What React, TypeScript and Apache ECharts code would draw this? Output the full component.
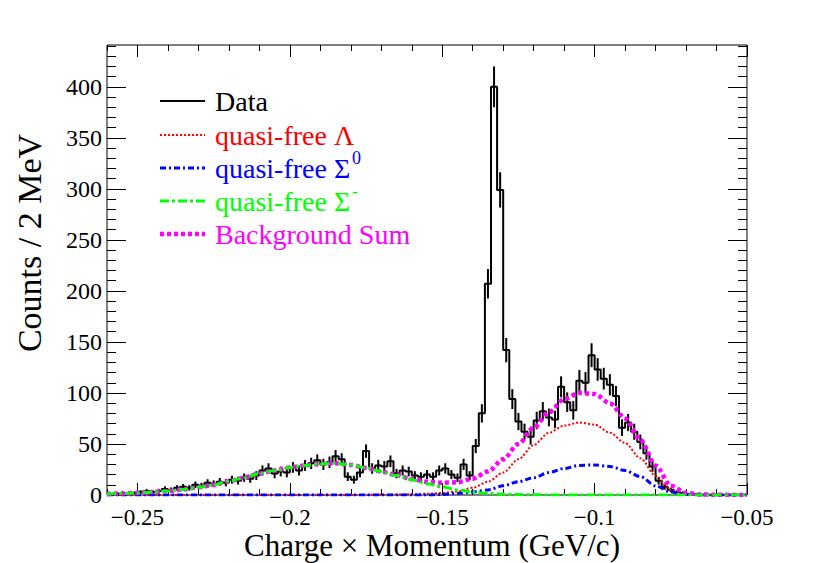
import React, { useEffect, useRef } from "react";
import * as echarts from "echarts";

const FONT = "Liberation Serif";

// Histogram: bins of 2 MeV from -0.26 to -0.05 GeV/c
const BIN_LOW = -0.26;
const BIN_WIDTH = 0.002;
const dataCounts = [
  1, 1, 2, 1, 2, 3, 4, 3, 4, 6,
  5, 7, 8, 7, 10, 9, 12, 11, 13, 12,
  15, 14, 17, 16, 19, 24, 26, 21, 23, 22,
  27, 24, 29, 31, 34, 30, 32, 38, 35, 18,
  15, 22, 43, 26, 29, 28, 33, 21, 24, 23,
  19, 18, 20, 18, 24, 26, 20, 17, 30, 19,
  48, 80, 207, 400, 299, 142, 94, 72, 62, 57,
  73, 82, 76, 74, 106, 91, 83, 112, 110, 137,
  123, 114, 108, 97, 66, 71, 62, 52, 41, 28,
  14, 8, 5, 3, 2, 1, 1, 0, 0, 0,
  0, 0, 0, 0, 0,
];

// Fit templates sampled every 5 MeV
const curveX = [
  -0.26, -0.255, -0.25, -0.245, -0.24, -0.235, -0.23, -0.225, -0.22, -0.215,
  -0.21, -0.205, -0.2, -0.195, -0.19, -0.185, -0.18, -0.175, -0.17, -0.165,
  -0.16, -0.155, -0.15, -0.145, -0.14, -0.135, -0.13, -0.125, -0.12, -0.115,
  -0.11, -0.105, -0.1, -0.095, -0.09, -0.085, -0.08, -0.075, -0.07, -0.065,
  -0.06, -0.055, -0.05,
];
const lambdaCurve = [
  0, 0, 0, 0, 0, 0, 0, 0, 0, 0,
  0, 0, 0, 0, 0, 0, 0, 0.1, 0.2, 0.4,
  0.7, 1.2, 2, 3.5, 7, 13, 22, 35, 49, 61,
  68, 71, 69, 61, 51, 36, 19, 5, 1, 0.2,
  0, 0, 0,
];
const sigma0Curve = [
  0, 0, 0, 0, 0, 0, 0, 0, 0, 0,
  0, 0, 0, 0, 0, 0, 0, 0, 0, 0,
  0, 0, 0.5, 1.5, 3, 5, 9, 13, 17, 22,
  26, 29, 29.5, 28, 24, 18, 9, 3, 0.7, 0.1,
  0, 0, 0,
];
const sigmaMinusCurve = [
  1, 1.5, 2, 3, 4, 5.5, 7.5, 10, 13.5, 17,
  21, 24, 27, 29, 30.5, 31, 29.5, 26.5, 23, 19,
  15, 11, 8, 5, 3, 1.5, 0.8, 0.4, 0.2, 0.1,
  0, 0, 0, 0, 0, 0, 0, 0, 0, 0,
  0, 0, 0,
];
const bgSumCurve = [
  1, 1.5, 2, 3, 4, 5.5, 7.5, 10, 13.5, 17,
  21, 24, 27, 29, 30.5, 31, 29.5, 26.5, 23, 19.5,
  15.5, 13, 12, 12.5, 16, 23, 35, 50, 66, 81,
  94, 100, 99, 90, 75, 54, 29, 9, 2, 0.5,
  0.2, 0.1, 0,
];

const X_MIN = -0.26;
const X_MAX = -0.05;
const Y_MIN = 0;
const Y_MAX = 441;
const xMajorTicks = [-0.25, -0.2, -0.15, -0.1, -0.05];
const xMinorTicks = [
  -0.26, -0.25, -0.24, -0.23, -0.22, -0.21, -0.2, -0.19, -0.18, -0.17, -0.16,
  -0.15, -0.14, -0.13, -0.12, -0.11, -0.1, -0.09, -0.08, -0.07, -0.06, -0.05,
];
const yMajorTicks = [0, 50, 100, 150, 200, 250, 300, 350, 400];
const yMinorTicks = [
  10, 20, 30, 40, 60, 70, 80, 90, 110, 120, 130, 140, 160, 170, 180, 190,
  210, 220, 230, 240, 260, 270, 280, 290, 310, 320, 330, 340, 360, 370, 380,
  390, 410, 420, 430, 440,
];

const xTitle = "Charge \u00d7 Momentum (GeV/c)";
const yTitle = "Counts / 2 MeV";

const legendEntries = [
  { name: "Data", sup: "", color: "#000000", dash: "solid", width: 2 },
  { name: "quasi-free \u039b", sup: "", color: "#ff0000", dash: [2, 2], width: 2 },
  { name: "quasi-free \u03a3", sup: "0", color: "#0000ff", dash: [6, 3, 2, 3], width: 3 },
  { name: "quasi-free \u03a3", sup: "-", color: "#00ff00", dash: [9, 3, 3, 3], width: 3 },
  { name: "Background Sum", sup: "", color: "#ff00ff", dash: [4, 3], width: 4.5 },
];
const legendY = [101, 135, 168, 201, 234];

function fmtX(v: number) {
  if (v === 0) return "0";
  return (v < 0 ? "\u2212" : "") + String(Math.abs(Math.round(v * 1000) / 1000));
}

export default function App() {
  const ref = useRef<HTMLDivElement>(null);
  useEffect(() => {
    document.body.style.margin = "0";
    if (!ref.current) return;
    const chart = echarts.init(ref.current, undefined, { renderer: "svg" });

    const stepData: number[][] = dataCounts.map((c, k) => [
      BIN_LOW + k * BIN_WIDTH,
      c,
    ]);
    stepData.push([
      BIN_LOW + dataCounts.length * BIN_WIDTH,
      dataCounts[dataCounts.length - 1],
    ]);
    const errData: number[][] = [];
    dataCounts.forEach((c, k) => {
      if (c > 0) errData.push([BIN_LOW + (k + 0.5) * BIN_WIDTH, c, Math.sqrt(c)]);
    });
    const pairs = (ys: number[]) => curveX.map((x, i) => [x, ys[i]]);

    const axisCommonX = {
      type: "value" as const,
      min: X_MIN,
      max: X_MAX,
      splitLine: { show: false },
      axisLine: { show: false, onZero: false },
    };
    const axisCommonY = {
      type: "value" as const,
      min: Y_MIN,
      max: Y_MAX,
      splitLine: { show: false },
      axisLine: { show: false, onZero: false },
    };
    const tickStyle = { color: "#000", width: 1 };

    const curveSeries = (
      name: string,
      ys: number[],
      color: string,
      width: number,
      dash: any
    ) => ({
      name,
      type: "line",
      data: pairs(ys),
      symbol: "none",
      smooth: 0.3,
      smoothMonotone: "x",
      lineStyle: { color, width, type: dash },
      z: 3,
    });

    const graphics: any[] = [];
    legendEntries.forEach((e, i) => {
      graphics.push({
        type: "line",
        shape: { x1: 160, y1: legendY[i], x2: 205, y2: legendY[i] },
        style: { stroke: e.color, lineWidth: e.width, lineDash: e.dash === "solid" ? null : e.dash },
        z: 100,
      });
      graphics.push({
        type: "text",
        x: 215,
        y: legendY[i],
        style: {
          text: e.name,
          fontSize: 28,
          fontFamily: FONT,
          fill: e.color,
          verticalAlign: "middle",
          align: "left",
        },
        z: 100,
      });
      if (e.sup) {
        graphics.push({
          type: "text",
          x: 352,
          y: legendY[i] - 10,
          style: {
            text: e.sup,
            fontSize: 18,
            fontFamily: FONT,
            fill: e.color,
            verticalAlign: "middle",
            align: "left",
          },
          z: 100,
        });
      }
    });
    graphics.push({
      type: "text",
      x: 29,
      y: 243,
      rotation: Math.PI / 2,
      style: {
        text: yTitle,
        fontSize: 34,
        fontFamily: FONT,
        fill: "#000",
        align: "center",
        verticalAlign: "middle",
      },
    });
    graphics.push({
      type: "text",
      x: 432,
      y: 545.5,
      style: {
        text: xTitle,
        fontSize: 31,
        fontFamily: FONT,
        fill: "#000",
        align: "center",
        verticalAlign: "middle",
      },
    });

    chart.setOption({
      animation: false,
      backgroundColor: "#ffffff",
      textStyle: { fontFamily: FONT },
      grid: {
        left: 107,
        right: 83,
        top: 45,
        bottom: 68,
        show: true,
        borderColor: "#000",
        borderWidth: 1,
        backgroundColor: "transparent",
        containLabel: false,
        outerBoundsMode: "none",
      },
      xAxis: [
        {
          ...axisCommonX,
          position: "bottom",
          axisTick: { show: true, inside: true, length: 12, customValues: xMajorTicks, lineStyle: tickStyle },
          axisLabel: {
            show: true,
            customValues: xMajorTicks,
            formatter: fmtX,
            fontSize: 23,
            fontFamily: FONT,
            color: "#000",
            margin: 11,
          },
        },
        {
          ...axisCommonX,
          position: "bottom",
          axisTick: { show: true, inside: true, length: 6, customValues: xMinorTicks, lineStyle: tickStyle },
          axisLabel: { show: false },
        },
        {
          ...axisCommonX,
          position: "top",
          axisTick: { show: true, inside: true, length: 12, customValues: xMajorTicks, lineStyle: tickStyle },
          axisLabel: { show: false },
        },
        {
          ...axisCommonX,
          position: "top",
          axisTick: { show: true, inside: true, length: 6, customValues: xMinorTicks, lineStyle: tickStyle },
          axisLabel: { show: false },
        },
      ],
      yAxis: [
        {
          ...axisCommonY,
          position: "left",
          axisTick: { show: true, inside: true, length: 19, customValues: yMajorTicks, lineStyle: tickStyle },
          axisLabel: {
            show: true,
            customValues: yMajorTicks,
            fontSize: 24,
            fontFamily: FONT,
            color: "#000",
            margin: 5,
          },
        },
        {
          ...axisCommonY,
          position: "left",
          axisTick: { show: true, inside: true, length: 9, customValues: yMinorTicks, lineStyle: tickStyle },
          axisLabel: { show: false },
        },
        {
          ...axisCommonY,
          position: "right",
          axisTick: { show: true, inside: true, length: 19, customValues: yMajorTicks, lineStyle: tickStyle },
          axisLabel: { show: false },
        },
        {
          ...axisCommonY,
          position: "right",
          axisTick: { show: true, inside: true, length: 9, customValues: yMinorTicks, lineStyle: tickStyle },
          axisLabel: { show: false },
        },
      ],
      series: [
        {
          name: "Data",
          type: "line",
          data: stepData,
          step: "end",
          symbol: "none",
          lineStyle: { color: "#000", width: 2 },
          z: 2,
        },
        {
          name: "Data errors",
          type: "custom",
          data: errData,
          z: 2,
          renderItem: (params: any, api: any) => {
            const x = api.value(0);
            const y = api.value(1);
            const e = api.value(2);
            const p1 = api.coord([x, y - e]);
            const p2 = api.coord([x, y + e]);
            return {
              type: "line",
              shape: { x1: p1[0], y1: p1[1], x2: p2[0], y2: p2[1] },
              style: { stroke: "#000", lineWidth: 2 },
            };
          },
        },
        curveSeries("quasi-free \u039b", lambdaCurve, "#ff0000", 2, [2, 2]),
        curveSeries("quasi-free \u03a30", sigma0Curve, "#0000ff", 3, [6, 3, 2, 3]),
        curveSeries("Background Sum", bgSumCurve, "#ff00ff", 4.5, [4, 3]),
        curveSeries("quasi-free \u03a3-", sigmaMinusCurve, "#00ff00", 3, [9, 3, 3, 3]),
      ],
      graphic: graphics,
    });
    return () => chart.dispose();
  }, []);
  return <div ref={ref} style={{ width: 830, height: 563 }} />;
}
